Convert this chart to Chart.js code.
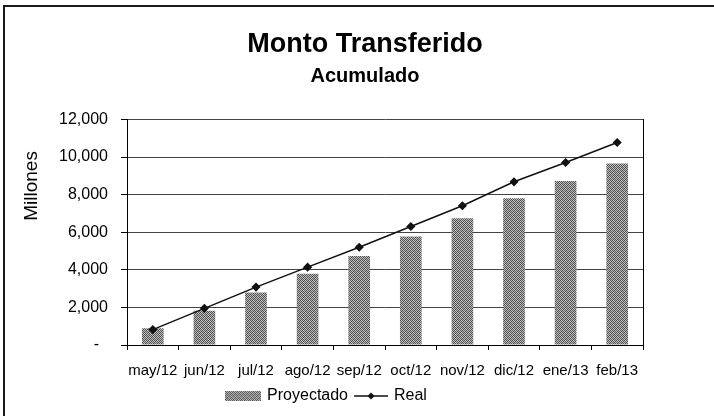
<!DOCTYPE html>
<html lang="es">
<head>
<meta charset="utf-8">
<title>Monto Transferido</title>
<script src="https://cdn.jsdelivr.net/npm/chart.js@4.4.1/dist/chart.umd.min.js"></script>
<style>
  html, body { margin: 0; padding: 0; background: #fff; }
  #marco { position: relative; width: 714px; height: 416px; overflow: hidden; }
  #borde { position: absolute; left: 3px; top: 5px; width: 800px; height: 500px;
           border-top: 2px solid #1a1a1a; border-left: 2px solid #1a1a1a; pointer-events: none; }
  canvas { display: block; }
</style>
</head>
<body>
<div id="marco">
  <canvas id="grafico" width="714" height="416"></canvas>
  <div id="borde"></div>
</div>
<script>
// Datos (millones, acumulado)
const meses = ['may/12', 'jun/12', 'jul/12', 'ago/12', 'sep/12', 'oct/12', 'nov/12', 'dic/12', 'ene/13', 'feb/13'];
const proyectado = [890, 1820, 2790, 3790, 4740, 5770, 6740, 7800, 8720, 9660];
const real = [820, 1950, 3080, 4140, 5200, 6300, 7410, 8680, 9710, 10770];
const ticksEje = [0, 2000, 4000, 6000, 8000, 10000, 12000];

Chart.defaults.font.family = '"Liberation Sans", Arial, sans-serif';
Chart.defaults.color = '#000';

// Trama punteada gris de las barras (estilo Excel)
function crearTrama() {
    const c = document.createElement('canvas');
    c.width = 4; c.height = 4;
    const g = c.getContext('2d');
    const mapa = [
        '#4a4a4a', '#c4c4c4', '#5c5c5c', '#b8b8b8',
        '#bcbcbc', '#555555', '#cccccc', '#444444',
        '#606060', '#b4b4b4', '#484848', '#c8c8c8',
        '#c0c0c0', '#4e4e4e', '#b0b0b0', '#585858'
    ];
    mapa.forEach((col, i) => {
        g.fillStyle = col;
        g.fillRect(i % 4, Math.floor(i / 4), 1, 1);
    });
    return c;
}

const canvas = document.getElementById('grafico');
const ctx = canvas.getContext('2d');
const trama = crearTrama();
const relleno = ctx.createPattern(trama, 'repeat');

// Iconos de la leyenda
const cajaLeyenda = document.createElement('canvas');
cajaLeyenda.width = 36; cajaLeyenda.height = 10;
(function() {
    const g = cajaLeyenda.getContext('2d');
    g.fillStyle = g.createPattern(trama, 'repeat');
    g.fillRect(0, 0, 36, 10);
})();

const lineaLeyenda = document.createElement('canvas');
lineaLeyenda.width = 36; lineaLeyenda.height = 10;
(function() {
    const g = lineaLeyenda.getContext('2d');
    g.strokeStyle = '#111';
    g.lineWidth = 1.5;
    g.beginPath(); g.moveTo(2, 5); g.lineTo(36, 5); g.stroke();
    g.fillStyle = '#111';
    g.beginPath(); g.moveTo(19, 1.5); g.lineTo(22.5, 5); g.lineTo(19, 8.5); g.lineTo(15.5, 5); g.closePath(); g.fill();
})();

// Desplaza la leyenda hacia la izquierda como en el original
const moverLeyenda = {
    id: 'moverLeyenda',
    afterLayout(chart) {
        const l = chart.legend;
        if (l) { l.left -= 38; l.right -= 38; }
    }
};

new Chart(ctx, {
    type: 'bar',
    data: {
        labels: meses,
        datasets: [{
            label: 'Proyectado',
            data: proyectado,
            backgroundColor: relleno,
            borderWidth: 0,
            barPercentage: 0.42,
            categoryPercentage: 1,
            order: 2
        }, {
            type: 'line',
            label: 'Real',
            data: real,
            borderColor: '#111',
            borderWidth: 1.5,
            pointStyle: 'rectRot',
            pointRadius: 3.5,
            pointBackgroundColor: '#111',
            pointBorderColor: '#111',
            tension: 0,
            order: 1
        }]
    },
    options: {
        responsive: false,
        animation: false,
        layout: { padding: { left: 16, right: 0, top: 0, bottom: 2 } },
        scales: {
            x: {
                grid: { drawOnChartArea: false, tickLength: 5, color: '#000' },
                border: { color: '#000' },
                ticks: { font: { size: 15 }, padding: 12, autoSkip: false, maxRotation: 0 },
                afterFit(s) { s.height = 37; }
            },
            y: {
                min: ticksEje[0],
                max: ticksEje[ticksEje.length - 1],
                afterBuildTicks(s) { s.ticks = ticksEje.map(v => ({ value: v })); },
                grid: { color: '#444', tickColor: '#000', tickLength: 6 },
                border: { color: '#000' },
                ticks: {
                    font: { size: 16 },
                    padding: 13,
                    callback: v => v === 0 ? '-  ' : v.toLocaleString('en-US')
                },
                title: {
                    display: true,
                    text: 'Millones      ',
                    align: 'end',
                    font: { size: 19 },
                    padding: { top: 4, bottom: 0 }
                },
                afterFit(s) { s.width = 111; }
            },
            y2: {
                position: 'right',
                min: ticksEje[0],
                max: ticksEje[ticksEje.length - 1],
                grid: { drawOnChartArea: false, drawTicks: false },
                border: { color: '#000' },
                ticks: { display: false },
                afterFit(s) { s.width = 71; }
            }
        },
        plugins: {
            title: {
                display: true,
                text: 'Monto Transferido',
                font: { size: 27, weight: 'bold' },
                padding: { top: 28, bottom: 0 }
            },
            subtitle: {
                display: true,
                text: 'Acumulado',
                color: '#000',
                font: { size: 20, weight: 'bold' },
                padding: { top: 4, bottom: 31 }
            },
            legend: {
                position: 'bottom',
                labels: {
                    usePointStyle: true,
                    pointStyleWidth: 32,
                    padding: 6,
                    font: { size: 16 },
                    sort: (a, b) => a.datasetIndex - b.datasetIndex,
                    generateLabels(chart) {
                        const items = Chart.defaults.plugins.legend.labels.generateLabels(chart);
                        items.forEach(it => {
                            it.pointStyle = it.text === 'Proyectado' ? cajaLeyenda : lineaLeyenda;
                        });
                        return items;
                    }
                }
            },
            tooltip: { enabled: false }
        }
    },
    plugins: [moverLeyenda]
});
</script>
</body>
</html>
